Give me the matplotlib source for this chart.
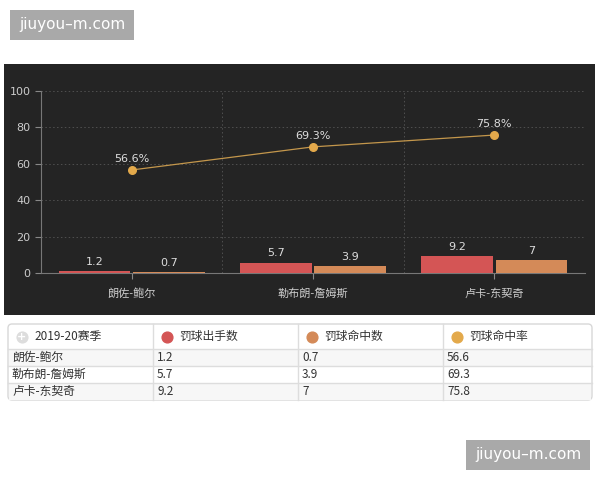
import matplotlib
matplotlib.use('Agg')
import matplotlib.pyplot as plt
from matplotlib.patches import Rectangle, FancyBboxPatch
import numpy as np

plt.rcParams['font.family'] = ['Noto Sans CJK SC', 'DejaVu Sans']

players = ['朗佐-鲍尔', '勒布朗-詹姆斯', '卢卡-东契奇']
attempts = [1.2, 5.7, 9.2]
made = [0.7, 3.9, 7]
pct = [56.6, 69.3, 75.8]
season = '2019-20赛季'
series_names = ['罚球出手数', '罚球命中数', '罚球命中率']
colors = ['#d45555', '#d48a58', '#e3a94b']

W, H = 600, 480
fig = plt.figure(figsize=(6, 4.8), dpi=100)
fig.patch.set_facecolor('white')

# background layer in pixel coords
bg = fig.add_axes([0, 0, 1, 1])
bg.set_xlim(0, W)
bg.set_ylim(H, 0)
bg.axis('off')
bg.set_zorder(0)

# dark chart panel
bg.add_patch(Rectangle((4, 64), 591, 251, facecolor='#242424', edgecolor='none'))

# chart axes
ax = fig.add_axes([41 / W, (H - 273) / H, 544 / W, 182 / H])
ax.set_zorder(1)
ax.patch.set_alpha(0)
x = np.arange(len(players))
bw = 0.395
b1 = ax.bar(x - 0.205, attempts, bw, color=colors[0], zorder=3)
b2 = ax.bar(x + 0.205, made, bw, color=colors[1], zorder=3)
ax.plot(x, pct, color='#c4974c', lw=0.9, zorder=4)
ax.scatter(x, pct, s=30, color=colors[2], zorder=5)

for bars, vals in ((b1, attempts), (b2, made)):
    for b, v in zip(bars, vals):
        ax.annotate(f'{v:g}', (b.get_x() + b.get_width() / 2, v), xytext=(0, 3),
                    textcoords='offset points', ha='center', va='bottom',
                    color='#dddddd', fontsize=8, family=['DejaVu Sans'])
for xi, v in zip(x, pct):
    ax.annotate(f'{v}%', (xi, v), xytext=(0, 4), textcoords='offset points',
                ha='center', va='bottom', color='#dddddd', fontsize=8,
                family=['DejaVu Sans'])

ax.set_xlim(-0.5, 2.5)
ax.set_ylim(0, 100)
ax.set_yticks([0, 20, 40, 60, 80, 100])
ax.set_xticks(x)
ax.set_xticklabels(players)
ax.tick_params(axis='y', colors='#888888', labelcolor='#cccccc', labelsize=8,
               length=4, width=0.8)
ax.tick_params(axis='x', colors='#888888', labelcolor='#cccccc', labelsize=8,
               length=4, width=0.8, pad=7)
for t in ax.get_yticklabels():
    t.set_family(['DejaVu Sans'])
for s in ('top', 'right'):
    ax.spines[s].set_visible(False)
ax.spines['left'].set_color('#777777')
ax.spines['bottom'].set_color('#777777')
for yv in [20, 40, 60, 80, 100]:
    ax.axhline(yv, color='#505050', lw=0.7, ls=(0, (1.5, 2.5)), zorder=1)
for xv in [0.5, 1.5, 2.5]:
    ax.axvline(xv, color='#505050', lw=0.7, ls=(0, (1.5, 2.5)), zorder=1)

# data table
tx0, tx1 = 8, 592
cols = [8, 153, 298, 443, 592]
rows = [324, 349, 366, 383, 400]
bg.add_patch(FancyBboxPatch((tx0, rows[0]), tx1 - tx0, rows[-1] - rows[0],
                            boxstyle='round,pad=0,rounding_size=4',
                            facecolor='white', edgecolor='#d8d8d8', lw=1))
for i in range(len(players)):
    if i % 2 == 0:
        bg.add_patch(Rectangle((tx0 + 1, rows[i + 1]), tx1 - tx0 - 2,
                               rows[i + 2] - rows[i + 1], facecolor='#f7f7f7',
                               edgecolor='none'))
for yv in rows[1:-1]:
    bg.plot([tx0, tx1], [yv, yv], color='#dddddd', lw=1)
for xv in cols[1:-1]:
    bg.plot([xv, xv], [rows[0], rows[-1]], color='#dddddd', lw=1)

hy = (rows[0] + rows[1]) / 2
bg.scatter([cols[0] + 14], [hy], s=60, color='#dddddd', zorder=3)
bg.text(cols[0] + 14, hy, '+', color='white', ha='center', va='center',
        fontsize=8, fontweight='bold', zorder=4, family=['DejaVu Sans'])
bg.text(cols[0] + 26, hy, season, ha='left', va='center', fontsize=8.5,
        color='#333333')
for j, name in enumerate(series_names):
    cx = cols[j + 1]
    bg.scatter([cx + 14], [hy], s=60, color=colors[j], zorder=3)
    bg.text(cx + 26, hy, name, ha='left', va='center', fontsize=8.5,
            color='#333333')

for i, p in enumerate(players):
    ry = (rows[i + 1] + rows[i + 2]) / 2
    vals = [p, f'{attempts[i]:g}', f'{made[i]:g}', f'{pct[i]:g}']
    for j, v in enumerate(vals):
        bg.text(cols[j] + 4, ry, v, ha='left', va='center', fontsize=8.5,
                color='#333333')

# watermarks
for (wx, wy) in ((10, 10), (466, 440)):
    bg.add_patch(Rectangle((wx, wy), 124, 30, facecolor='#a9a9a9',
                           edgecolor='none'))
    bg.text(wx + 62, wy + 15, 'jiuyou–m.com', ha='center', va='center',
            color='white', fontsize=11, family=['DejaVu Sans'])

fig.savefig('out.png', dpi=100, facecolor='white')
